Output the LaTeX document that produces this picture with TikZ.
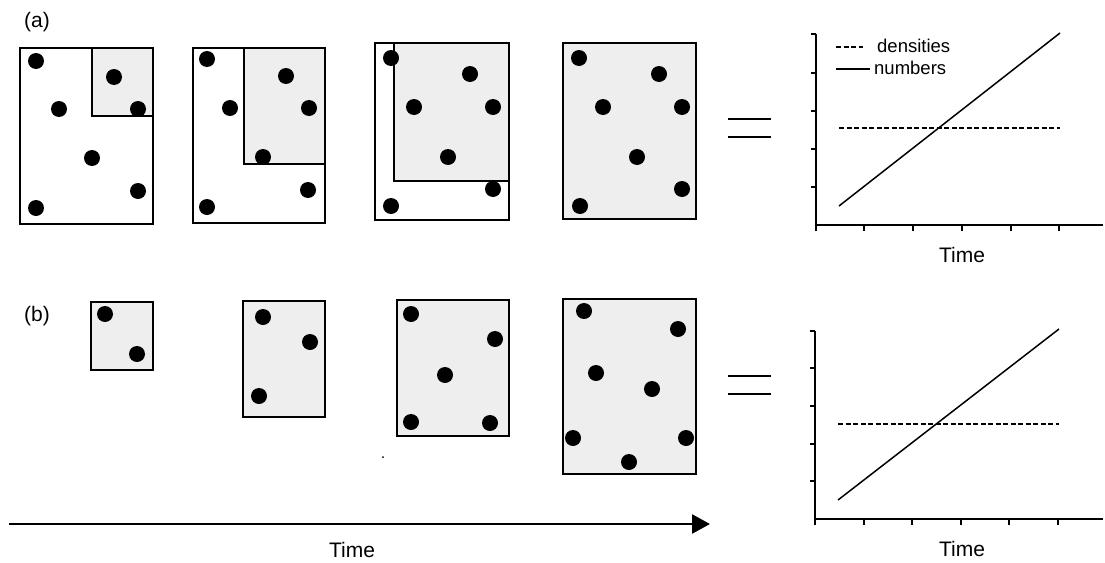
\documentclass[tikz,border=0pt]{standalone}
\usepackage{fontspec}
\setmainfont{Liberation Sans}
\usetikzlibrary{arrows.meta}
\begin{document}
\begin{tikzpicture}[x=1pt,y=-1pt,
  frame/.style={draw=black,line width=1.8pt},
  shaded/.style={fill=gray!13},
  lbl/.style={font=\fontsize{21}{24}\selectfont,inner sep=0pt},
  leg/.style={font=\fontsize{18.5}{22}\selectfont,anchor=west,inner sep=0pt},
  axisline/.style={line width=1.6pt},
  tickline/.style={line width=1.2pt},
  numline/.style={line width=1.5pt},
  densline/.style={line width=1.2pt,dash pattern=on 5pt off 2.5pt},
  eqline/.style={line width=1.4pt}]
\useasboundingbox (0,0) rectangle (1105,562);

% panel labels
\node[lbl] (la) at (37,22) {(a)};
\node[lbl] (lb) at (37,316) {(b)};

% ---------- panel (a) ----------
% box a1
\draw[frame,fill=white] (20,48) rectangle (153,224);
\draw[frame,shaded] (92,48) rectangle (153,116);
\foreach \px/\py in {36/61,114/77,59/109,138/109,92/158,138/191,36/208}
  \fill (\px,\py) circle (8pt);
% box a2
\draw[frame,fill=white] (193,48) rectangle (325,223);
\draw[frame,shaded] (244,48) rectangle (325,164);
\foreach \px/\py in {207/59,286/76,230/108,309/108,263/157,308/190,207/207}
  \fill (\px,\py) circle (8pt);
% box a3
\draw[frame,fill=white] (375,43) rectangle (509,220);
\draw[frame,shaded] (394,43) rectangle (509,181);
\foreach \px/\py in {391/58,470/74,414/107,493/107,448/157,493/189,391/206}
  \fill (\px,\py) circle (8pt);
% box a4
\draw[frame,shaded] (563,43) rectangle (696,219);
\foreach \px/\py in {579/58,659/74,603/107,682/107,637/157,682/189,580/206}
  \fill (\px,\py) circle (8pt);

% equals (a)
\draw[eqline] (728,119) -- (771,119);
\draw[eqline] (728,137) -- (771,137);

% graph (a)
\coordinate (ao) at (816,225);
\draw[axisline] (816,34) -- (ao) -- (1103,225);
\foreach \t in {34,73,111,149,187}
  \draw[tickline] (811,\t) -- (816,\t);
\foreach \t in {816,864,913,962,1011,1059}
  \draw[tickline] (\t,225) -- (\t,231);
\coordinate (an0) at (839,206);
\coordinate (an1) at (1060,33);
\draw[numline] (an0) -- (an1);
\coordinate (ad0) at (839,128);
\coordinate (ad1) at (1060,128);
\draw[densline] (ad0) -- (ad1);
% legend
\draw[densline] (836,47) -- (863,47);
\node[leg] (tdens) at (877,46) {densities};
\draw[numline] (836,69) -- (870,69);
\node[leg] (tnum) at (874,68) {numbers};
\node[lbl] (timea) at (962,255) {Time};

% ---------- panel (b) ----------
\draw[frame,shaded] (91,302) rectangle (153,370);
\foreach \px/\py in {105/314,137/354}
  \fill (\px,\py) circle (8pt);
\draw[frame,shaded] (243,301) rectangle (325,417);
\foreach \px/\py in {263/317,310/342,259/396}
  \fill (\px,\py) circle (8pt);
\draw[frame,shaded] (397,300) rectangle (509,436);
\foreach \px/\py in {411/314,495/339,445/375,411/422,490/423}
  \fill (\px,\py) circle (8pt);
\draw[frame,shaded] (563,299) rectangle (696,474);
\foreach \px/\py in {584/311,678/329,596/373,652/389,573/438,686/438,629/462}
  \fill (\px,\py) circle (8pt);
\fill (383,457) circle (1pt);

% equals (b)
\draw[eqline] (728,376) -- (771,376);
\draw[eqline] (728,394) -- (771,394);

% graph (b)
\coordinate (bo) at (815,519);
\draw[axisline] (815,331) -- (bo) -- (1103,519);
\foreach \t in {331,368,406,444,481}
  \draw[tickline] (810,\t) -- (815,\t);
\foreach \t in {815,864,912,961,1009,1058}
  \draw[tickline] (\t,519) -- (\t,525);
\coordinate (bn0) at (838,500);
\coordinate (bn1) at (1059,329);
\draw[numline] (bn0) -- (bn1);
\coordinate (bd0) at (838,424);
\coordinate (bd1) at (1059,424);
\draw[densline] (bd0) -- (bd1);
\node[lbl] (timeb) at (962,549) {Time};

% time arrow
\coordinate (ts) at (9,524);
\coordinate (te) at (710,524);
\draw[line width=2.6pt,-{Triangle[length=18pt,width=19pt]}] (ts) -- (te);
\node[lbl] (timec) at (352,550) {Time};
\end{tikzpicture}
\end{document}
